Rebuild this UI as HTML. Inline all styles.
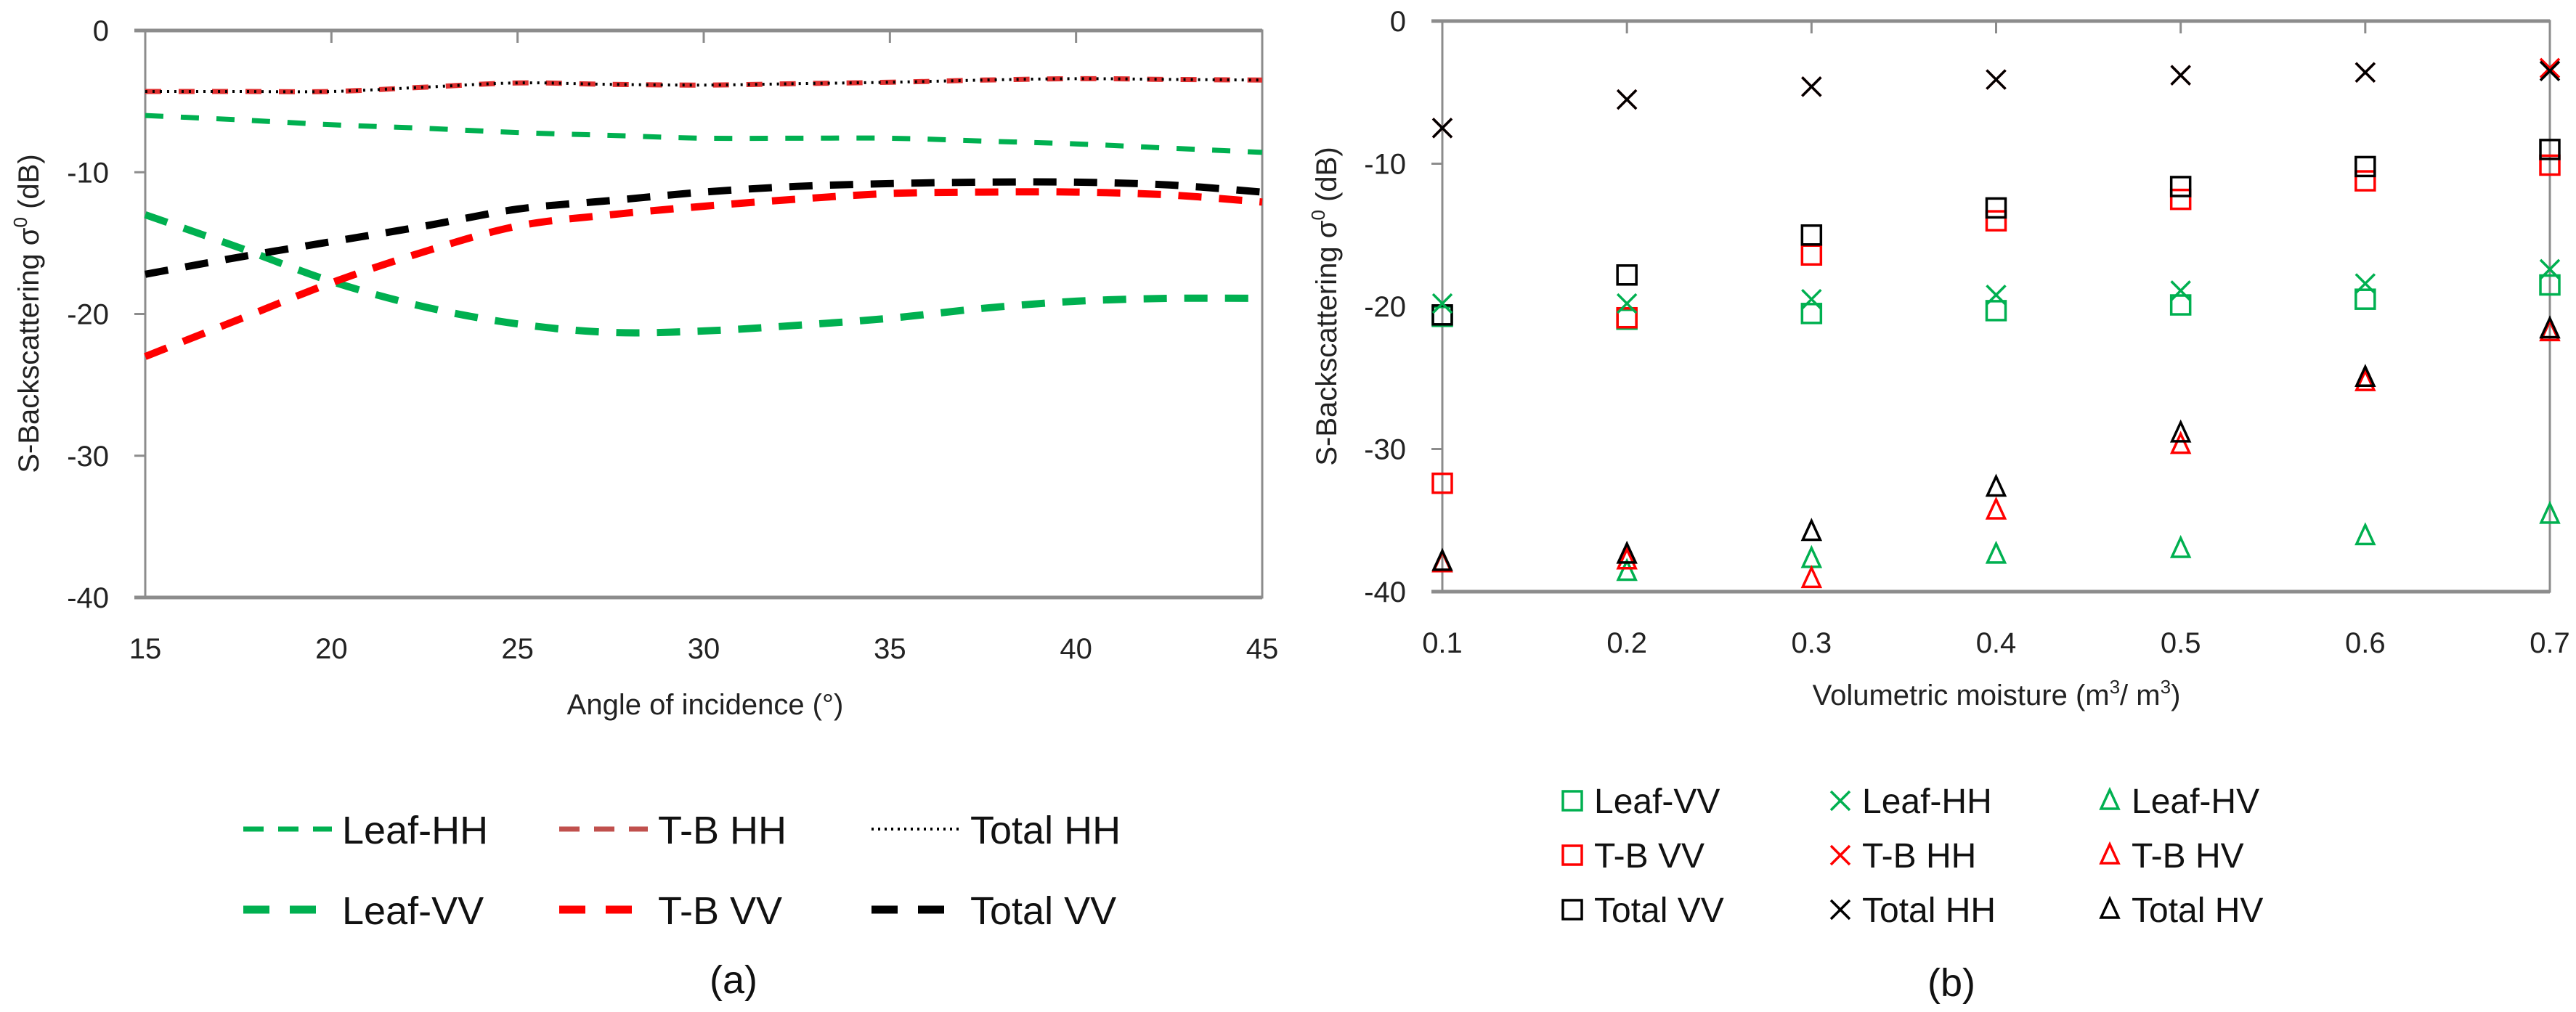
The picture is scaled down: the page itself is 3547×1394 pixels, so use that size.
<!DOCTYPE html>
<html><head><meta charset="utf-8"><style>
html,body{margin:0;padding:0;background:#fff;}
svg{display:block;font-family:"Liberation Sans",sans-serif;}
</style></head><body>
<svg id="fig" width="3547" height="1394" viewBox="0 0 3547 1394" xmlns="http://www.w3.org/2000/svg">
<g id="chartA"></g>
<g id="chartB"></g>
</svg>
<script>
// ---------- Chart (a) data ----------
const angles = [15,17.5,20,22.5,25,27.5,30,32.5,35,37.5,40,42.5,45];
const leafHH = [-6.0,-6.3,-6.65,-6.9,-7.2,-7.4,-7.6,-7.6,-7.6,-7.8,-8.0,-8.3,-8.6];
const tbHH = [-4.3,-4.3,-4.3,-4.0,-3.7,-3.8,-3.85,-3.75,-3.65,-3.5,-3.4,-3.45,-3.5];
const totalHH = [-4.3,-4.3,-4.3,-4.0,-3.7,-3.8,-3.85,-3.75,-3.65,-3.5,-3.4,-3.45,-3.5];
const leafVV = [-13.0,-15.3,-17.7,-19.5,-20.7,-21.3,-21.2,-20.8,-20.3,-19.6,-19.1,-18.9,-18.9];
const tbVV = [-23.0,-20.4,-17.8,-15.6,-13.8,-13.0,-12.4,-11.9,-11.5,-11.4,-11.4,-11.6,-12.1];
const totalVV = [-17.2,-16.0,-14.9,-13.8,-12.6,-12.0,-11.4,-11.0,-10.8,-10.7,-10.7,-10.9,-11.4];
const aXTicks = [15,20,25,30,35,40,45];
const aYTicks = [0,-10,-20,-30,-40];

// ---------- Chart (b) data ----------
const moisture = [0.1,0.2,0.3,0.4,0.5,0.6,0.7];
const bLeafVV = [-20.7,-20.9,-20.5,-20.3,-19.9,-19.5,-18.5];
const bLeafHH = [-19.8,-19.8,-19.5,-19.2,-18.9,-18.4,-17.4];
const bLeafHV = [-38.0,-38.6,-37.7,-37.4,-37.0,-36.1,-34.6];
const bTbVV = [-32.4,-20.8,-16.4,-14.0,-12.5,-11.2,-10.1];
const bTbHH = [-7.5,-5.5,-4.6,-4.1,-3.8,-3.6,-3.3];
const bTbHV = [-38.0,-37.8,-39.1,-34.3,-29.7,-25.3,-21.8];
const bTotalVV = [-20.6,-17.8,-15.0,-13.1,-11.6,-10.2,-9.0];
const bTotalHH = [-7.5,-5.5,-4.6,-4.1,-3.8,-3.6,-3.5];
const bTotalHV = [-37.9,-37.4,-35.8,-32.7,-28.9,-25.0,-21.6];
const bXTicks = [0.1,0.2,0.3,0.4,0.5,0.6,0.7];
const bYTicks = [0,-10,-20,-30,-40];

const NS="http://www.w3.org/2000/svg";
function mk(tag, attrs, parent){const e=document.createElementNS(NS,tag);for(const k in attrs)e.setAttribute(k,attrs[k]);parent.appendChild(e);return e;}
const GREEN="#00b050", RED="#ff0000", BLACK="#000", AX="#8c8c8c";

// axis functions
const ax={x0:200,x1:1738,y0:42,y1:823,dmin:15,dmax:45};
function axX(v){return ax.x0+(v-ax.dmin)/(ax.dmax-ax.dmin)*(ax.x1-ax.x0);}
function axY(v){return ax.y0+(0-v)/40*(ax.y1-ax.y0);}
const bx={x0:1986,x1:3511,y0:29,y1:815,dmin:0.1,dmax:0.7};
function bxX(v){return bx.x0+(v-bx.dmin)/(bx.dmax-bx.dmin)*(bx.x1-bx.x0);}
function bxY(v){return bx.y0+(0-v)/40*(bx.y1-bx.y0);}

function smoothPath(pts){
  let d="M"+pts[0][0].toFixed(1)+","+pts[0][1].toFixed(1);
  for(let i=0;i<pts.length-1;i++){
    const p0=pts[Math.max(0,i-1)],p1=pts[i],p2=pts[i+1],p3=pts[Math.min(pts.length-1,i+2)];
    const c1=[p1[0]+(p2[0]-p0[0])/6,p1[1]+(p2[1]-p0[1])/6];
    const c2=[p2[0]-(p3[0]-p1[0])/6,p2[1]-(p3[1]-p1[1])/6];
    d+=" C"+c1[0].toFixed(1)+","+c1[1].toFixed(1)+" "+c2[0].toFixed(1)+","+c2[1].toFixed(1)+" "+p2[0].toFixed(1)+","+p2[1].toFixed(1);
  }
  return d;
}

function frame(g, X, Y, A, xt, yt, fmt){
  let e;
  e=mk("rect",{x:A.x0,y:A.y0,width:A.x1-A.x0,height:A.y1-A.y0,fill:"none",stroke:AX,"stroke-width":3},g);
  
  
  e=mk("line",{x1:A.x0-15,y1:A.y0,x2:A.x1,y2:A.y0,stroke:AX,"stroke-width":5},g);
  
  
  e=mk("line",{x1:A.x0-15,y1:A.y1,x2:A.x1,y2:A.y1,stroke:AX,"stroke-width":5},g);
  
  
  xt.forEach(v=>{
    const x=X(v);
    e=mk("line",{x1:x,y1:A.y0,x2:x,y2:A.y0+17,stroke:AX,"stroke-width":3},g);
    
    
    e=mk("text",{x:x,y:A.y1+84,"font-size":40,"text-anchor":"middle",fill:"#222"},g);
    e.textContent=fmt(v);
    
    
  });
  yt.forEach(v=>{
    const y=Y(v);
    e=mk("line",{x1:A.x0-15,y1:y,x2:A.x0,y2:y,stroke:AX,"stroke-width":3},g);
    
    
    e=mk("text",{x:A.x0-50,y:y+14,"font-size":40,"text-anchor":"end",fill:"#222"},g);
    e.textContent=String(v);
    
    
  });
}

// ---------- Chart (a) ----------
const gA=document.getElementById("chartA");
frame(gA,axX,axY,ax,aXTicks,aYTicks,v=>String(v));
function lineA(vals,color,w,dash,name){
  const pts=angles.map((a,i)=>[axX(a),axY(vals[i])]);
  const p=mk("path",{d:smoothPath(pts),fill:"none",stroke:color,"stroke-width":w,"stroke-dasharray":dash},gA);
  
  
}
lineA(leafHH,GREEN,7,"25 24","line-leaf-hh");
lineA(tbHH,"#e03030",7,"22 24","line-tb-hh");
lineA(totalHH,BLACK,4,"3 7","line-total-hh");
lineA(leafVV,GREEN,10,"32 24","line-leaf-vv");
lineA(tbVV,RED,10,"32 24","line-tb-vv");
lineA(totalVV,BLACK,10,"32 24","line-total-vv");

let t;
t=mk("text",{x:971,y:984,"font-size":40,"text-anchor":"middle",fill:"#222"},gA);
t.textContent="Angle of incidence (°)";


t=mk("text",{x:0,y:0,"font-size":40,"text-anchor":"middle",fill:"#222",transform:"translate(53,432) rotate(-90)"},gA);
t.innerHTML='S-Backscattering σ<tspan font-size="26" dy="-16">0</tspan><tspan dy="16"> (dB)</tspan>';



const legA=[
 {x:335,y:1142,c:GREEN,w:7,d:"28 20",s:"Leaf-HH"},
 {x:770,y:1142,c:"#c0504d",w:7,d:"28 20",s:"T-B HH"},
 {x:1200,y:1142,c:BLACK,w:4,d:"3 6",s:"Total HH"},
 {x:335,y:1253,c:GREEN,w:11,d:"36 28",s:"Leaf-VV"},
 {x:770,y:1253,c:RED,w:11,d:"36 28",s:"T-B VV"},
 {x:1200,y:1253,c:BLACK,w:11,d:"36 28",s:"Total VV"}
];
legA.forEach(L=>{
  const g=mk("g",{},gA);
  
  
  mk("line",{x1:L.x,y1:L.y,x2:L.x+122,y2:L.y,stroke:L.c,"stroke-width":L.w,"stroke-dasharray":L.d},g);
  const tx=mk("text",{x:L.x+136,y:L.y+20,"font-size":54,fill:"#111"},g);
  tx.textContent=L.s;
});
t=mk("text",{x:1010,y:1368,"font-size":54,"text-anchor":"middle",fill:"#111"},gA);
t.textContent="(a)";



// ---------- Chart (b) ----------
const gB=document.getElementById("chartB");
frame(gB,bxX,bxY,bx,bXTicks,bYTicks,v=>v.toFixed(1));
function marker(g,type,cx,cy,color){
  const s=13;
  if(type==="sq") return mk("rect",{x:cx-s,y:cy-s,width:2*s,height:2*s,fill:"none",stroke:color,"stroke-width":3.5},g);
  if(type==="x") return mk("path",{d:`M${cx-s},${cy-s}L${cx+s},${cy+s}M${cx-s},${cy+s}L${cx+s},${cy-s}`,fill:"none",stroke:color,"stroke-width":3.5},g);
  return mk("path",{d:`M${cx},${cy-15}L${cx+12},${cy+11}L${cx-12},${cy+11}Z`,fill:"none",stroke:color,"stroke-width":3.5},g);
}
function seriesB(vals,type,color,name){
  const g=mk("g",{},gB);
  
  
  moisture.forEach((m,i)=>{
    const e=marker(g,type,bxX(m),bxY(vals[i]),color);
    
    
  });
}
seriesB(bLeafHV,"tri",GREEN,"series-leaf-hv");
seriesB(bTbHV,"tri",RED,"series-tb-hv");
seriesB(bTotalHV,"tri",BLACK,"series-total-hv");
seriesB(bLeafVV,"sq",GREEN,"series-leaf-vv");
seriesB(bTbVV,"sq",RED,"series-tb-vv");
seriesB(bTotalVV,"sq",BLACK,"series-total-vv");
seriesB(bLeafHH,"x",GREEN,"series-leaf-hh");
seriesB(bTbHH,"x",RED,"series-tb-hh");
seriesB(bTotalHH,"x",BLACK,"series-total-hh");

t=mk("text",{x:2749,y:971,"font-size":40,"text-anchor":"middle",fill:"#222"},gB);
t.innerHTML='Volumetric moisture (m<tspan font-size="26" dy="-16">3</tspan><tspan dy="16">/ m</tspan><tspan font-size="26" dy="-16">3</tspan><tspan dy="16">)</tspan>';


t=mk("text",{x:0,y:0,"font-size":40,"text-anchor":"middle",fill:"#222",transform:"translate(1840,422) rotate(-90)"},gB);
t.innerHTML='S-Backscattering σ<tspan font-size="26" dy="-16">0</tspan><tspan dy="16"> (dB)</tspan>';



const legBcols=[2165,2534,2905];
const legBrows=[1103,1178,1253];
const legBtypes=["sq","x","tri"];
const legBcolors=[GREEN,RED,BLACK];
const legBlabels=[["Leaf-VV","Leaf-HH","Leaf-HV"],["T-B VV","T-B HH","T-B HV"],["Total VV","Total HH","Total HV"]];
legBrows.forEach((ry,r)=>{
  legBcols.forEach((cx,c)=>{
    const g=mk("g",{},gB);
    
    
    marker(g,legBtypes[c],cx,ry,legBcolors[r]);
    const tx=mk("text",{x:cx+30,y:ry+17,"font-size":48,fill:"#111"},g);
    tx.textContent=legBlabels[r][c];
  });
});
t=mk("text",{x:2687,y:1372,"font-size":54,"text-anchor":"middle",fill:"#111"},gB);
t.textContent="(b)";


</script>
</body></html>
